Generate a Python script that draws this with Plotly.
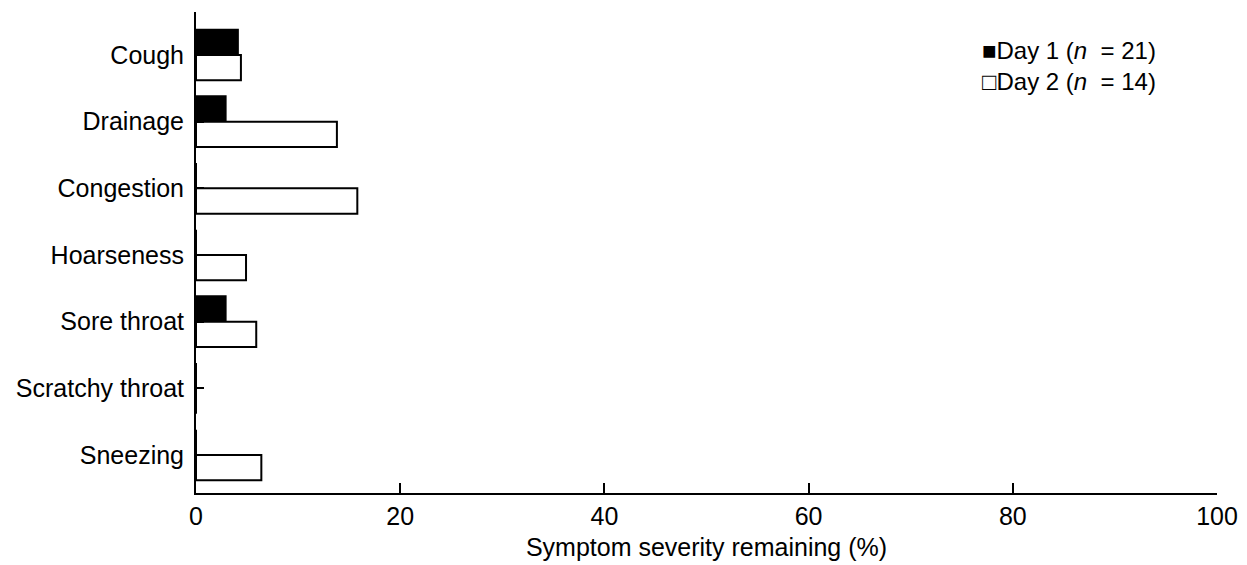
import plotly.graph_objects as go

categories = ["Cough", "Drainage", "Congestion", "Hoarseness", "Sore throat", "Scratchy throat", "Sneezing"]
day1_values = [4.1, 2.9, 0, 0, 2.9, 0, 0]
day2_values = [4.4, 13.8, 15.8, 4.9, 5.9, 0, 6.4]
day1_name = "Day 1 (<i>n</i>\u00a0 = 21)"
day2_name = "Day 2 (<i>n</i>\u00a0 = 14)"
x_ticks = [0, 20, 40, 60, 80, 100]

FONT = "Liberation Sans, Arial, sans-serif"
FS = 25

fig = go.Figure()
fig.add_trace(go.Bar(
    y=categories, x=day1_values, orientation="h", name=day1_name,
    marker=dict(color="black", line=dict(color="black", width=2)),
    showlegend=False,
))
fig.add_trace(go.Bar(
    y=categories, x=day2_values, orientation="h", name=day2_name,
    marker=dict(color="white", line=dict(color="black", width=2)),
    showlegend=False,
))

# legend drawn as one two-line text block
fig.add_annotation(
    xref="paper", yref="paper", x=0.768, y=0.887, xanchor="left", yanchor="middle",
    align="left", showarrow=False, font=dict(size=24, color="black"),
    text="■" + day1_name + "<br>" + "□" + day2_name,
)

fig.update_layout(
    width=1247, height=565,
    paper_bgcolor="white", plot_bgcolor="white",
    margin=dict(l=188, r=38, t=4, b=80),
    barmode="group", bargap=0.24, bargroupgap=0,
    font=dict(family=FONT, size=FS, color="black"),
    xaxis=dict(
        range=[0, 100], tickvals=x_ticks, ticks="inside", ticklen=10,
        tickwidth=1.5, tickcolor="black", showline=True, linecolor="black",
        linewidth=2, showgrid=False, zeroline=False,
        title=dict(text="Symptom severity remaining (%)", font=dict(size=FS), standoff=9),
        tickfont=dict(size=FS),
    ),
    yaxis=dict(
        range=[6.57, -0.645], categoryorder="array", categoryarray=categories,
        ticks="inside", ticklen=8, tickwidth=1.5, tickcolor="black",
        showline=True, linecolor="black", linewidth=2, showgrid=False,
        zeroline=False, tickfont=dict(size=FS), ticklabelstandoff=5,
    ),
)

fig.write_html("out.html")
